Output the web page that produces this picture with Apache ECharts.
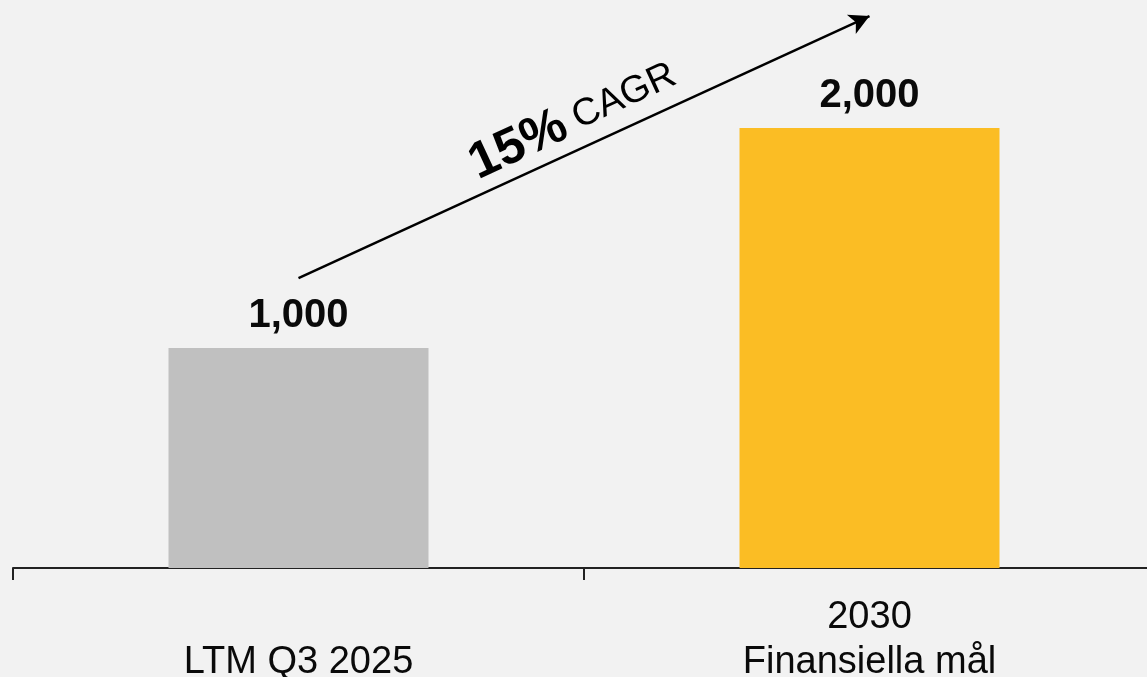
<!DOCTYPE html>
<html>
<head>
<meta charset="utf-8">
<script src="https://cdn.jsdelivr.net/npm/echarts@6/dist/echarts.min.js"></script>
<style>
html,body{margin:0;padding:0;background:#f2f2f2;}
#chart{width:1147px;height:677px;}
</style>
</head>
<body>
<div id="chart"></div>
<script>
const categories = ['LTM Q3 2025', '2030\nFinansiella mål'];
const values = [1000, 2000];
const barColors = ['#c0c0c0', '#fbbd24'];
const arrowStart = [0, 1318];
const arrowEnd = [1, 2509];
const cagrBold = '15%';
const cagrText = 'CAGR';

const chart = echarts.init(document.getElementById('chart'));
chart.setOption({
  backgroundColor: '#f2f2f2',
  animation: false,
  grid: { left: 13, right: -8, top: 9.2, bottom: 109, containLabel: false, outerBoundsMode: 'none' },
  xAxis: {
    type: 'category',
    data: categories,
    axisLine: { show: true, lineStyle: { color: '#222', width: 2 } },
    axisTick: { show: true, length: 12, lineStyle: { color: '#222', width: 2 } },
    axisLabel: {
      margin: 27,
      fontSize: 38,
      lineHeight: 45,
      color: '#0a0a0a',
      fontFamily: 'Liberation Sans',
      formatter: v => v.indexOf('\n') < 0 ? '\n' + v : v
    }
  },
  yAxis: {
    type: 'value', min: 0, max: 2540, show: false, splitLine: { show: false }
  },
  series: [{
    type: 'bar',
    barWidth: 260,
    data: values.map((v, i) => ({ value: v, itemStyle: { color: barColors[i] } })),
    label: {
      show: true,
      position: 'top',
      distance: 12,
      fontSize: 40,
      fontWeight: 'bold',
      color: '#0a0a0a',
      fontFamily: 'Liberation Sans',
      formatter: p => p.value.toLocaleString('en-US')
    },
    markLine: {
      silent: true,
      symbol: ['none', 'arrow'],
      symbolSize: [16, 20],
      label: { show: false },
      lineStyle: { color: '#000', width: 2.5, type: 'solid' },
      data: [[{ coord: arrowStart }, { coord: arrowEnd }]]
    }
  }],
  graphic: [{
    type: 'text',
    x: 573, y: 120,
    rotation: 24.8 * Math.PI / 180,
    style: {
      text: '{b|' + cagrBold + '}{r| ' + cagrText + '}',
      align: 'center',
      verticalAlign: 'middle',
      fill: '#000',
      rich: {
        b: { fontSize: 51, fontWeight: 'bold', fontFamily: 'Liberation Sans', fill: '#000' },
        r: { fontSize: 38, fontFamily: 'Liberation Sans', fill: '#000' }
      }
    }
  }]
});
</script>
</body>
</html>
